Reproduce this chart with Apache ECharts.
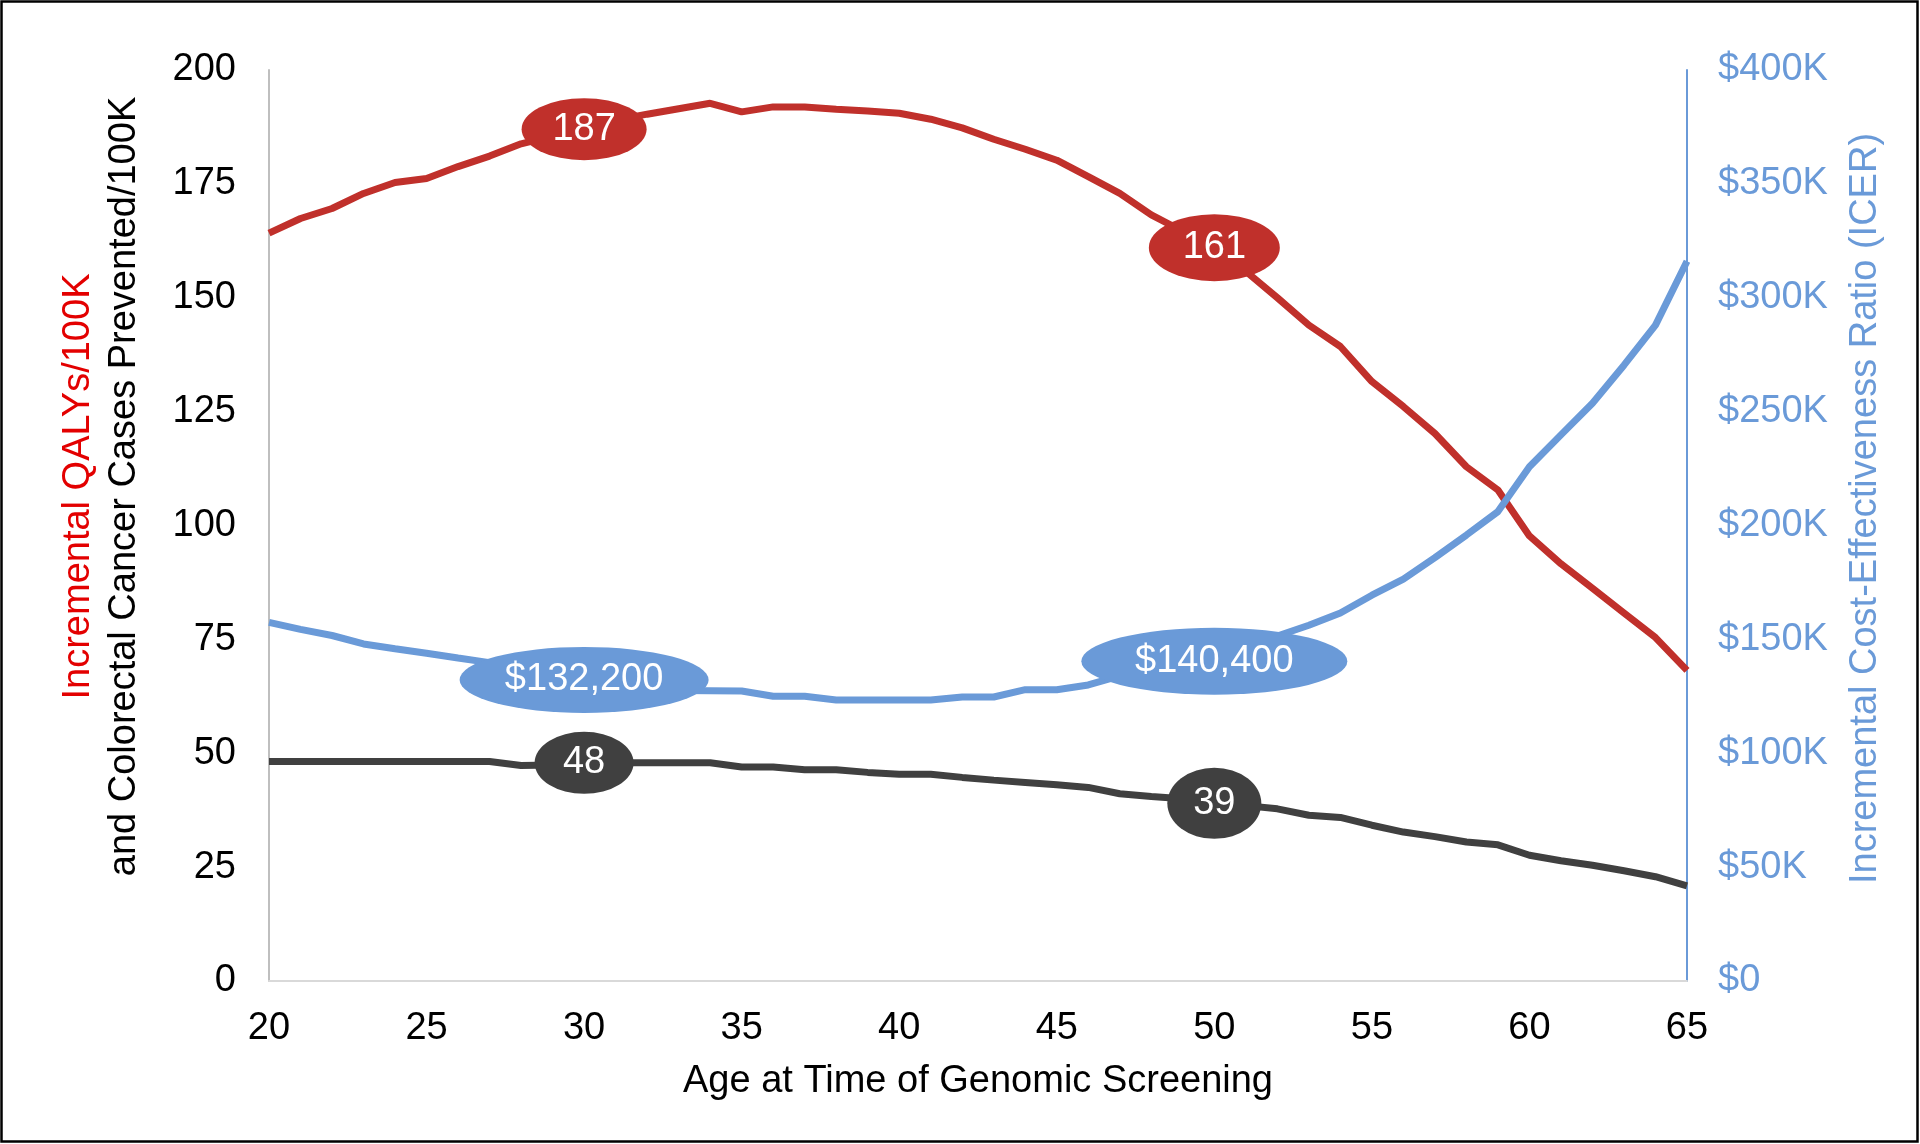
<!DOCTYPE html>
<html>
<head>
<meta charset="utf-8">
<script src="https://cdn.jsdelivr.net/npm/echarts@6/dist/echarts.min.js"></script>
<style>
html,body{margin:0;padding:0;background:#fff;}
#chart{width:1920px;height:1144px;}
</style>
</head>
<body>
<div id="chart"></div>
<script>
// ---- Data ----
const ages = [20,21,22,23,24,25,26,27,28,29,30,31,32,33,34,35,36,37,38,39,40,41,42,43,44,45,46,47,48,49,50,51,52,53,54,55,56,57,58,59,60,61,62,63,64,65];
const qalys = [164.2,167.4,169.6,172.9,175.3,176.2,178.8,181.1,183.8,185.5,
               187,189,190.3,191.5,192.7,190.8,191.9,191.9,191.4,191,
               190.5,189.2,187.3,184.8,182.6,180.2,176.6,172.9,168.2,164.6,
               161,155.8,150,144,139.3,131.6,126.1,120.2,112.9,107.8,
               97.7,91.6,86.2,80.8,75.4,68.2];
const cases = [48.2,48.2,48.2,48.2,48.2,48.2,48.2,48.2,47.3,47.4,
               47.9,47.9,47.9,47.9,47.9,47.0,47.0,46.4,46.4,45.8,
               45.4,45.4,44.7,44.1,43.6,43.1,42.5,41.1,40.5,40.0,
               39.0,38.5,37.8,36.4,35.9,34.2,32.7,31.7,30.5,29.9,
               27.6,26.4,25.4,24.2,22.9,20.9];
const icer = [157500,154400,151700,148000,145900,143900,141800,139800,137500,135000,
              132200,130000,128500,127500,127400,127300,125000,125000,123400,123400,
              123400,123400,124700,124700,127900,127900,130000,134000,137000,139000,
              140400,146000,151500,156200,161600,169400,176500,185900,195800,206100,
              225800,239800,253700,270400,288000,316000];
const labeledAges = [30, 50];
const leftTicks = [0,25,50,75,100,125,150,175,200];
const rightTicks = [0,50000,100000,150000,200000,250000,300000,350000,400000];
const xTicks = [20,25,30,35,40,45,50,55,60,65];

// ---- Build ----
const pair = arr => ages.map((a,i)=>[a, arr[i]]);
const picked = arr => labeledAges.map(a => [a, arr[ages.indexOf(a)]]);

const RED = '#c0302b', BLUE = '#6a9ad8', DARK = '#404040';
const FONT = "'Liberation Sans', Arial, sans-serif";
const FS = 38;

const chart = echarts.init(document.getElementById('chart'));

function labelSeries(arr, yIdx, color, sizes, fmt){
  return {
    type:'scatter', yAxisIndex:yIdx, data:picked(arr), z:10,
    symbol:'circle',
    symbolSize:(v,p)=>sizes[p.dataIndex],
    itemStyle:{color:color, opacity:1},
    label:{show:true, position:'inside', color:'#fff', fontSize:FS, fontFamily:FONT,
           formatter:p=>fmt(p.value[1])},
    emphasis:{disabled:true}, silent:true
  };
}

chart.setOption({
  animation:false,
  backgroundColor:'#fff',
  textStyle:{fontFamily:FONT},
  grid:{left:269, right:233, top:70, bottom:163, containLabel:false},
  xAxis:{
    type:'value', min:xTicks[0], max:xTicks[xTicks.length-1], interval:5,
    name:'Age at Time of Genomic Screening', nameLocation:'middle', nameGap:82,
    nameTextStyle:{fontSize:FS, color:'#000', fontFamily:FONT},
    axisLine:{show:true, lineStyle:{color:'#d9d9d9', width:2}},
    axisTick:{show:false}, splitLine:{show:false},
    axisLabel:{fontSize:FS, color:'#000', margin:29, fontFamily:FONT}
  },
  yAxis:[{
    type:'value', min:leftTicks[0], max:leftTicks[leftTicks.length-1], interval:25,
    position:'left',
    name:'{r|Incremental QALYs/100K}\n{k|and Colorectal Cancer Cases Prevented/100K}',
    nameLocation:'middle', nameRotate:90, nameGap:121,
    nameTextStyle:{fontSize:FS, fontFamily:FONT, lineHeight:46, padding:[0,0,0,78],
      rich:{r:{color:'#e30000', fontSize:FS, lineHeight:46, fontFamily:FONT},
            k:{color:'#000', fontSize:FS, lineHeight:46, fontFamily:FONT}}},
    axisLine:{show:true, lineStyle:{color:'#bfbfbf', width:2}},
    axisTick:{show:false}, splitLine:{show:false},
    axisLabel:{fontSize:FS, color:'#000', margin:33, fontFamily:FONT, padding:[5,0,0,0]}
  },{
    type:'value', min:rightTicks[0], max:rightTicks[rightTicks.length-1], interval:50000,
    position:'right',
    name:'Incremental Cost-Effectiveness Ratio (ICER)',
    nameLocation:'middle', nameRotate:90, nameGap:160,
    nameTextStyle:{fontSize:FS, color:BLUE, fontFamily:FONT, padding:[0,0,0,34]},
    axisLine:{show:true, lineStyle:{color:BLUE, width:2}},
    axisTick:{show:false}, splitLine:{show:false},
    axisLabel:{fontSize:FS, color:BLUE, margin:31, fontFamily:FONT, padding:[5,0,0,0],
      formatter:v=> v===0 ? '$0' : '$'+(v/1000)+'K'}
  }],
  graphic:[{type:'rect', shape:{x:1.5,y:1.5,width:1916,height:1140},
            style:{fill:null, stroke:'#000', lineWidth:2.5}, silent:true, z:100}],
  series:[
    {type:'line', yAxisIndex:0, data:pair(qalys), showSymbol:false, symbol:'none',
     lineStyle:{color:RED, width:7}, z:3},
    {type:'line', yAxisIndex:0, data:pair(cases), showSymbol:false, symbol:'none',
     lineStyle:{color:DARK, width:7}, z:3},
    {type:'line', yAxisIndex:1, data:pair(icer), showSymbol:false, symbol:'none',
     lineStyle:{color:BLUE, width:7}, z:4},
    labelSeries(qalys,0,RED,[[125,62],[131,67]],v=>String(Math.round(v))),
    labelSeries(cases,0,DARK,[[99,62],[94,71]],v=>String(Math.round(v))),
    labelSeries(icer,1,BLUE,[[249,66],[266,67]],v=>'$'+Math.round(v).toLocaleString('en-US'))
  ]
});
</script>
</body>
</html>
